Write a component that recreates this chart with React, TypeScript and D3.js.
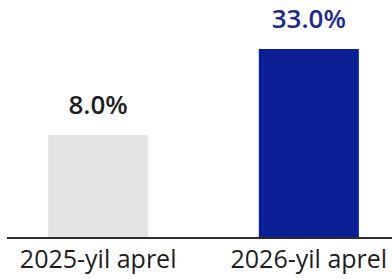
import React, { useEffect, useRef } from 'react';
import * as d3 from 'd3';

const categories = ['2025-yil aprel', '2026-yil aprel'];
const values = [8.0, 33.0];
const valueLabels = ['8.0%', '33.0%'];
const barColors = ['#e3e3e3', '#0a1f96'];
const labelColors = ['#1f1f1f', '#1d2a8e'];

export default function App() {
  const ref = useRef<SVGSVGElement | null>(null);

  useEffect(() => {
    if (!ref.current) return;
    const width = 392;
    const height = 279;
    const baseY = 238;

    const svg = d3.select(ref.current);
    svg.selectAll('*').remove();
    svg.attr('viewBox', [0, 0, width, height]).style('background', '#ffffff');

    const x = d3.scaleBand<string>()
      .domain(categories)
      .range([6, 401])
      .paddingInner(0.525)
      .paddingOuter(0.2);

    // bars are not proportional in the source, so the scale starts below zero
    const y = d3.scaleLinear().domain([-22, 33]).range([baseY, 49]);

    const g = svg.append('g');

    g.selectAll('rect.bar')
      .data(values)
      .enter().append('rect')
      .attr('class', 'bar')
      .attr('x', (_d, i) => x(categories[i]) as number)
      .attr('width', x.bandwidth())
      .attr('y', d => y(d))
      .attr('height', d => baseY - y(d))
      .attr('fill', (_d, i) => barColors[i]);

    g.selectAll('text.value')
      .data(values)
      .enter().append('text')
      .attr('class', 'value')
      .attr('x', (_d, i) => (x(categories[i]) as number) + x.bandwidth() / 2)
      .attr('y', d => y(d) - 21)
      .attr('text-anchor', 'middle')
      .style('font', '600 26px "Open Sans", sans-serif')
      .attr('fill', (_d, i) => labelColors[i])
      .text((_d, i) => valueLabels[i]);

    g.append('line')
      .attr('x1', 7)
      .attr('x2', width)
      .attr('y1', baseY)
      .attr('y2', baseY)
      .attr('stroke', '#2e2e2e')
      .attr('stroke-width', 2);

    g.selectAll('text.cat')
      .data(categories)
      .enter().append('text')
      .attr('class', 'cat')
      .attr('x', d => (x(d) as number) + x.bandwidth() / 2)
      .attr('y', 268)
      .attr('text-anchor', 'middle')
      .style('font', '400 25px "Open Sans", sans-serif')
      .attr('fill', '#1c1c1c')
      .text(d => d);
  }, []);

  return (
    <div style={{ position: 'absolute', left: 0, top: 0 }}>
      <svg ref={ref} width={392} height={279} style={{ display: 'block' }} />
    </div>
  );
}
